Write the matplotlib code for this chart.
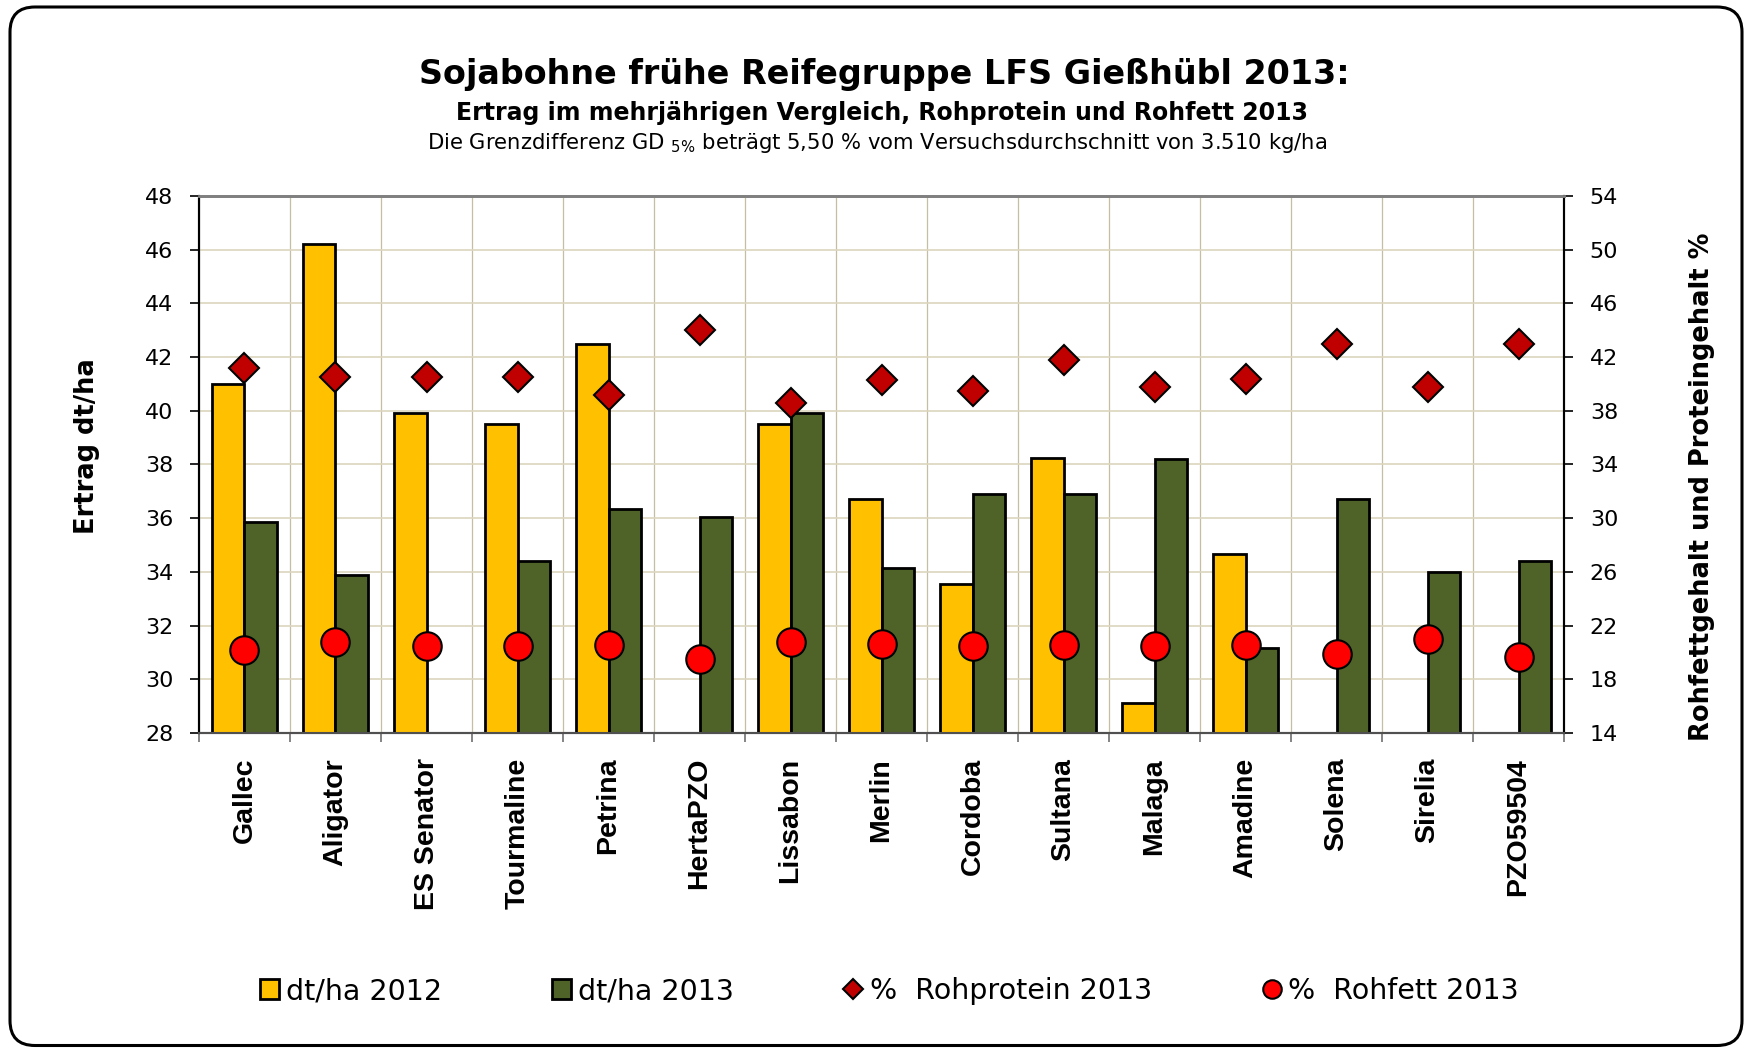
import numpy as np
import matplotlib
matplotlib.use("Agg")
from matplotlib import pyplot as plt
from matplotlib.patches import FancyBboxPatch

# Daten
sorten = ["Gallec", "Aligator", "ES Senator", "Tourmaline", "Petrina", "HertaPZO",
          "Lissabon", "Merlin", "Cordoba", "Sultana", "Malaga", "Amadine",
          "Solena", "Sirelia", "PZO59504"]
ertrag_2012 = [41.0, 46.2, 39.9, 39.5, 42.5, np.nan, 39.5, 36.7, 33.55, 38.25,
               29.1, 34.65, np.nan, np.nan, np.nan]
ertrag_2013 = [35.85, 33.9, np.nan, 34.4, 36.35, 36.05, 39.9, 34.15, 36.9, 36.9,
               38.2, 31.15, 36.7, 34.0, 34.4]
rohprotein = [41.2, 40.55, 40.5, 40.55, 39.15, 44.0, 38.55, 40.3, 39.5, 41.8,
              39.8, 40.4, 42.95, 39.75, 42.95]
rohfett = [20.15, 20.75, 20.5, 20.5, 20.55, 19.5, 20.75, 20.65, 20.45, 20.55,
           20.5, 20.55, 19.9, 21.0, 19.65]

gelb = "#FFC000"
gruen = "#4F6228"
gitter = "#DCD6BE"

fig = plt.figure(figsize=(17.47, 10.48), dpi=100)
ax = fig.add_axes([0.1139, 0.3006, 0.7814, 0.5124])
ax2 = ax.twinx()

x = np.arange(len(sorten))
b = 0.36
bars1 = ax.bar(x - b / 2, ertrag_2012, b, color=gelb, edgecolor="black", linewidth=2, zorder=3)
bars2 = ax.bar(x + b / 2, ertrag_2013, b, color=gruen, edgecolor="black", linewidth=2, zorder=3)

l1, = ax2.plot(x, rohprotein, linestyle="none", marker="D", markersize=15,
               markerfacecolor="#C00000", markeredgecolor="black", markeredgewidth=1.5, zorder=4)
l2, = ax2.plot(x, rohfett, linestyle="none", marker="o", markersize=20.5,
               markerfacecolor="#FF0000", markeredgecolor="black", markeredgewidth=1.5, zorder=5)

ax.set_xlim(-0.5, len(sorten) - 0.5)
ax.set_ylim(28, 48)
ax.set_yticks(np.arange(28, 49, 2))
ax2.set_ylim(14, 54)
ax2.set_yticks(np.arange(14, 55, 4))

ax.set_xticks(x)
ax.set_xticklabels(sorten, rotation=90, fontsize=20.5, fontweight="bold",
                   family=["Liberation Sans", "DejaVu Sans"])
ax.set_xticks(np.arange(-0.5, len(sorten), 1), minor=True)
ax.tick_params(axis="x", which="major", length=0, pad=18)
ax.tick_params(axis="x", which="minor", length=6.5, width=1.2, color="#707070", direction="out")
ax.tick_params(axis="y", labelsize=16, length=6.5, width=1.2, pad=12)
ax2.tick_params(axis="y", labelsize=16, length=6.5, width=1.2, pad=12)

ax.set_axisbelow(True)
ax.grid(True, axis="y", color=gitter, linewidth=1.2)
ax.grid(True, axis="x", which="minor", color="#C4BEA2", linewidth=0.9)
ax.grid(False, axis="x", which="major")

for a in (ax, ax2):
    a.spines["top"].set_color("#808080")
    a.spines["top"].set_linewidth(2)
    a.spines["left"].set_linewidth(1.5)
    a.spines["right"].set_linewidth(1.5)
    a.spines["bottom"].set_color("#505050")
    a.spines["bottom"].set_linewidth(1.5)

fig.text(0.0498, 0.5744, "Ertrag dt/ha", rotation=90, ha="center", va="center",
         fontsize=18.5, fontweight="bold")
fig.text(0.9743, 0.5353, "Rohfettgehalt und Proteingehalt %", rotation=90, ha="center",
         va="center", fontsize=18.5, fontweight="bold")

fig.text(0.506, 0.9288, "Sojabohne frühe Reifegruppe LFS Gießhübl 2013:", ha="center",
         va="center", fontsize=24, fontweight="bold")
fig.text(0.505, 0.8926, "Ertrag im mehrjährigen Vergleich, Rohprotein und Rohfett 2013",
         ha="center", va="center", fontsize=17, fontweight="bold")
fig.text(0.502, 0.8639,
         r"Die Grenzdifferenz GD $_{5\%}$ beträgt 5,50 % vom Versuchsdurchschnitt von 3.510 kg/ha",
         ha="center", va="center", fontsize=15.2)

fig.legend([bars1, bars2, l1, l2],
           ["dt/ha 2012", "dt/ha 2013", "%  Rohprotein 2013", "%  Rohfett 2013"],
           loc="center", bbox_to_anchor=(0.509, 0.054), ncol=4, frameon=False,
           fontsize=20.5, handlelength=0.67, handleheight=0.7, handletextpad=0.25,
           columnspacing=3.86, markerscale=0.65)

rahmen = FancyBboxPatch((0.10, 0.025), 17.32, 10.385,
                        boxstyle="round,pad=0,rounding_size=0.25",
                        transform=fig.dpi_scale_trans, facecolor="none",
                        edgecolor="black", linewidth=2.2)
fig.patches.append(rahmen)

fig.savefig("out.png", dpi=100)
